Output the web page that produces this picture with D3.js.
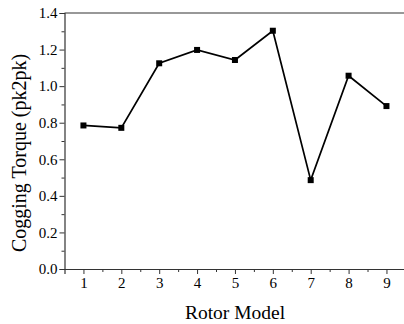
<!DOCTYPE html>
<html><head><meta charset="utf-8">
<script src="https://cdn.jsdelivr.net/npm/d3@7"></script>
<style>
html,body{margin:0;padding:0;background:#fff;}
svg{display:block;}
</style></head>
<body>
<svg id="c" width="404" height="324"></svg>
<script>
const models = [1,2,3,4,5,6,7,8,9];
const torque = [0.785,0.772,1.125,1.198,1.143,1.303,0.486,1.057,0.891];
const yTicks = [0.0,0.2,0.4,0.6,0.8,1.0,1.2,1.4];
const xTitle = "Rotor Model";
const yTitle = "Cogging Torque (pk2pk)";

const FF = "Liberation Serif";
const svg = d3.select("#c");
const L = 64.5, R = 405.4, T = 13, B = 269;
const x = d3.scaleLinear().domain([0.5,9.5]).range([L,R]);
const y = d3.scaleLinear().domain([0,1.4]).range([B,T]);
const axisCol = "#333";

// top border
svg.append("line").attr("x1",L).attr("x2",R).attr("y1",T).attr("y2",T)
  .attr("stroke",axisCol).attr("stroke-width",1.2);

// y axis
const ya = svg.append("g").attr("transform",`translate(${L},0)`);
ya.call(d3.axisLeft(y).tickValues(yTicks).tickFormat(d3.format(".1f")).tickSize(5).tickPadding(2));
const yMinor = svg.append("g").attr("transform",`translate(${L},0)`);
yMinor.call(d3.axisLeft(y).tickValues(d3.range(0.1,1.4,0.2)).tickFormat("").tickSize(3));
yMinor.select(".domain").remove();
// x axis
const xa = svg.append("g").attr("transform",`translate(0,${B})`);
xa.call(d3.axisBottom(x).tickValues(models).tickFormat(d3.format("d")).tickSize(5).tickPadding(3));
const xMinor = svg.append("g").attr("transform",`translate(0,${B})`);
xMinor.call(d3.axisBottom(x).tickValues(d3.range(1.5,9.5,1)).tickFormat("").tickSize(3));
xMinor.select(".domain").remove();

svg.selectAll("g").attr("font-family",FF).attr("font-size",15);
svg.selectAll(".domain").attr("stroke",axisCol).attr("stroke-width",1.2);
svg.selectAll(".tick line").attr("stroke",axisCol).attr("stroke-width",1);
svg.selectAll(".tick text").attr("font-family",FF).attr("font-size",15).attr("fill","#000");

// line
const line = d3.line().x((d,i)=>x(models[i])).y(d=>y(d));
svg.append("path").datum(torque).attr("d",line).attr("fill","none")
  .attr("stroke","#000").attr("stroke-width",1.7);
svg.selectAll("rect.m").data(torque).join("rect").attr("class","m")
  .attr("x",(d,i)=>x(models[i])-3).attr("y",d=>y(d)-3)
  .attr("width",6).attr("height",6).attr("fill","#000");

// titles
svg.append("text").attr("x",235).attr("y",319).attr("text-anchor","middle")
  .attr("font-family",FF).attr("font-size",19.5).attr("fill","#000").text(xTitle);
svg.append("text").attr("transform","translate(26,153) rotate(-90)").attr("text-anchor","middle")
  .attr("font-family",FF).attr("font-size",20).attr("fill","#000").text(yTitle);
</script>
</body></html>
